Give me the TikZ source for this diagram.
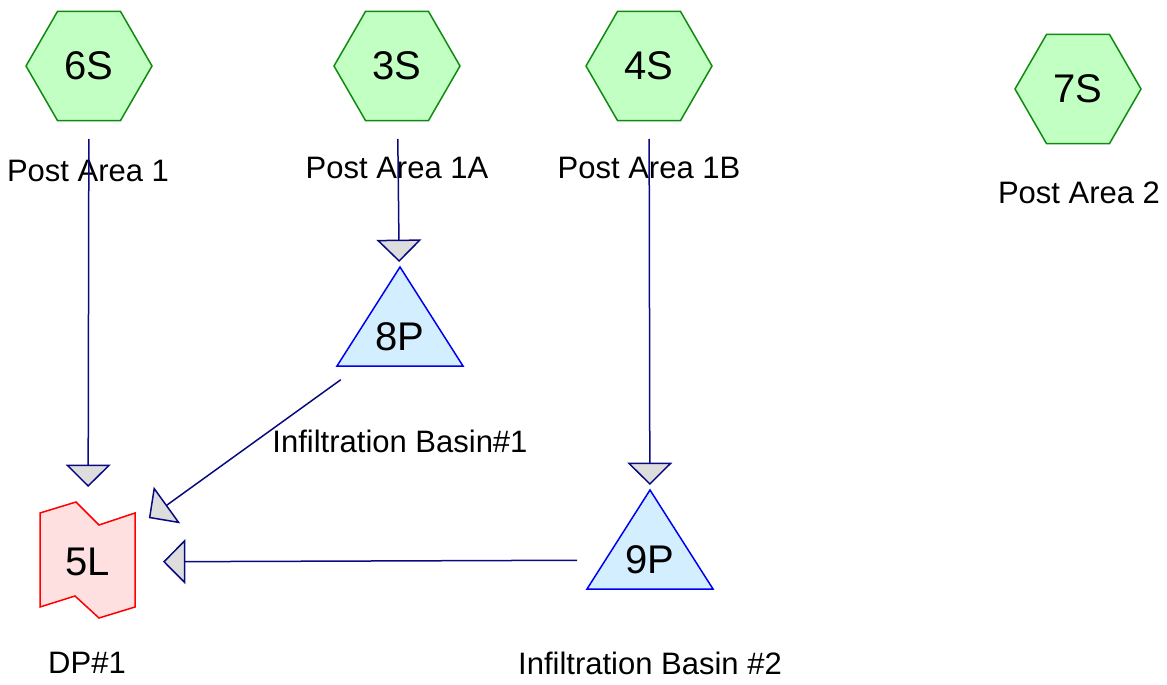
\documentclass[tikz,border=0pt]{standalone}
\usepackage{fontspec}
\setmainfont{Liberation Sans}
\usepackage{tikz}
\usetikzlibrary{arrows.meta,shapes.geometric}
\definecolor{CadGreen}{HTML}{108A10}
\definecolor{CadGreenLight}{HTML}{C2FFC2}
\definecolor{CadBlue}{HTML}{0000F0}
\definecolor{CadBlueLight}{HTML}{D2EEFF}
\definecolor{CadRed}{HTML}{FF0000}
\definecolor{CadRedLight}{HTML}{FFE0E0}
\definecolor{CadNavy}{HTML}{0A0A80}
\definecolor{CadTip}{HTML}{DDDDDD}

\tikzset{
  subcat/.style={regular polygon, regular polygon sides=6, minimum size=63pt, inner sep=0pt,
    draw=CadGreen, fill=CadGreenLight, line width=0.75pt, font=\fontsize{20}{22}\selectfont},
  pondtext/.style={inner sep=0pt, font=\fontsize{20}{22}\selectfont},
  pondshape/.style={draw=CadBlue, fill=CadBlueLight, line width=0.75pt},
  linkshape/.style={draw=CadRed, fill=CadRedLight, line width=0.75pt},
  caption/.style={inner sep=0pt, font=\fontsize{15.5}{18}\selectfont},
  reach/.style={draw=CadNavy, line width=0.75pt, shorten <=36.5pt, shorten >=37.5pt,
    -{Triangle[length=11.2pt, width=22.5pt, fill=CadTip]}}
}

\begin{document}
\begin{tikzpicture}[x=0.5pt, y=-0.5pt]
  \useasboundingbox (0,0) rectangle (1167,685);
  % subcatchments
  \node[subcat] (6S) at (89,66) {6S};
  \node[subcat] (3S) at (397,66) {3S};
  \node[subcat] (4S) at (649,66) {4S};
  \node[subcat] (7S) at (1078,89) {7S};
  \node[caption] at (88,171) {Post Area 1};
  \node[caption] at (397,168) {Post Area 1A};
  \node[caption] at (649,168) {Post Area 1B};
  \node[caption] at (1079,193) {Post Area 2};
  % ponds
  \draw[pondshape, shift={(400,337)}] (0,-70) -- (63,29) -- (-63,29) -- cycle;
  \node[pondtext] (8P) at (400,337) {8P};
  \node[caption] at (400,441) {Infiltration Basin\#1};
  \draw[pondshape, shift={(650,560)}] (0,-70) -- (63,29) -- (-63,29) -- cycle;
  \node[pondtext] (9P) at (650,560) {9P};
  \node[caption] at (650,663) {Infiltration Basin \#2};
  % link
  \draw[linkshape, shift={(88,560)}] (-48,-47) -- (-12,-58) -- (11,-35) -- (47,-47)
    -- (47,47) -- (11,58) -- (-13,36) -- (-48,47) -- cycle;
  \node[pondtext] (5L) at (88,562) {5L};
  \node[caption] at (87,663) {DP\#1};
  % routing
  \draw[reach] (6S.center) -- (5L.center);
  \draw[reach] (3S.center) -- (8P.center);
  \draw[reach] (4S.center) -- (9P.center);
  \draw[reach] (8P.center) -- (5L.center);
  \draw[reach] (9P.center) -- (5L.center);
\end{tikzpicture}
\end{document}
